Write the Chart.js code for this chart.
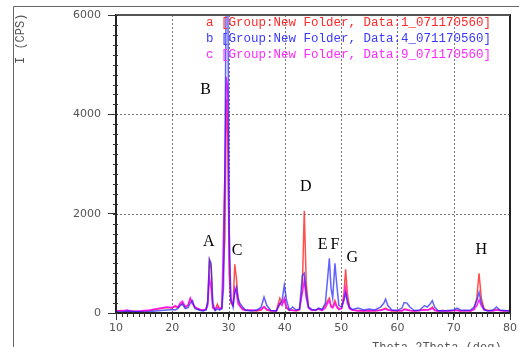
<!DOCTYPE html>
<html>
<head>
<meta charset="utf-8">
<script src="https://cdn.jsdelivr.net/npm/chart.js@4.4.0/dist/chart.umd.min.js"></script>
<style>
  html, body { margin: 0; padding: 0; background: #fff; }
  #wrap { position: relative; width: 519px; height: 347px; }
</style>
</head>
<body>
<div id="wrap"><canvas id="xrd" width="519" height="347"></canvas></div>
<script>
// 2-theta positions (deg) shared by the three scans
const twoTheta = [
  10, 11, 12, 13, 14, 15, 16, 17, 18, 19,
  20, 20.5, 21, 21.4, 21.8, 22.3, 22.8, 23.2, 23.6, 24.0,
  24.5, 25, 25.5, 26, 26.3, 26.6, 26.9, 27.2, 27.6, 28.0,
  28.4, 28.8, 29.1, 29.35, 29.6, 29.85, 30.1, 30.4, 30.8, 31.1,
  31.4, 31.7, 32.0, 32.5, 33, 34, 35, 35.8, 36.3, 36.8,
  37.5, 38.5, 39.1, 39.5, 39.9, 40.3, 40.8, 41.4, 42, 42.6,
  43.1, 43.45, 43.8, 44.2, 44.8, 45.5, 46, 46.6, 47.2, 47.6,
  47.9, 48.2, 48.5, 48.9, 49.2, 49.6, 50.1, 50.5, 50.8, 51.1,
  51.5, 52, 53, 54, 55, 56, 57, 57.6, 57.9, 58.3,
  59, 60, 60.8, 61.2, 61.7, 62.2, 63, 64, 64.8, 65.3,
  65.8, 66.2, 66.6, 67.2, 68, 69, 70, 70.6, 71.2, 72,
  73, 73.6, 74.1, 74.5, 74.9, 75.4, 76, 77, 77.6, 78.2,
  79, 80
];

// a : Data 1_071170560 (red)
const cpsA = [
  40, 50, 30, 40, 20, 40, 50, 70, 90, 110,
  100, 130, 110, 160, 200, 120, 150, 280, 200, 110,
  80, 60, 50, 80, 200, 1050, 900, 120, 60, 180,
  90, 110, 900, 1500, 4300, 3600, 800, 200, 150, 980,
  700, 250, 150, 80, 60, 50, 40, 60, 120, 60,
  40, 50, 300, 200, 250, 100, 50, 60, 40, 60,
  500, 2060, 600, 120, 60, 50, 90, 60, 150, 250,
  300, 150, 120, 250, 150, 80, 100, 400, 880, 400,
  100, 60, 50, 40, 50, 40, 60, 80, 100, 70,
  40, 40, 50, 80, 70, 50, 40, 50, 70, 60,
  80, 120, 60, 40, 50, 40, 50, 60, 40, 50,
  40, 80, 300, 800, 300, 80, 50, 50, 70, 50,
  40, 50
];

// b : Data 4_071170560 (blue)
const cpsB = [
  30, 20, 40, 30, 30, 20, 30, 40, 50, 60,
  70, 60, 90, 150, 180, 90, 110, 200, 250, 90,
  70, 50, 40, 60, 250, 1080, 1000, 200, 50, 80,
  60, 80, 500, 3000, 6900, 6900, 1800, 300, 120, 400,
  520, 300, 200, 120, 60, 40, 60, 120, 320, 150,
  50, 40, 180, 250, 560, 250, 60, 120, 60, 80,
  750, 800, 400, 120, 70, 60, 100, 70, 200, 700,
  1100, 500, 300, 1000, 600, 150, 120, 250, 400, 250,
  120, 70, 100, 60, 80, 60, 120, 200, 280, 150,
  60, 50, 100, 210, 200, 120, 50, 60, 150, 120,
  180, 250, 120, 50, 40, 50, 60, 100, 60, 50,
  60, 120, 250, 420, 200, 70, 40, 60, 120, 60,
  50, 40
];

// c : Data 9_071170560 (magenta)
const cpsC = [
  50, 40, 60, 30, 40, 50, 60, 80, 100, 120,
  110, 150, 120, 200, 240, 130, 160, 300, 180, 130,
  90, 70, 60, 70, 150, 700, 500, 100, 70, 120,
  80, 100, 1600, 2800, 4750, 4500, 1200, 250, 160, 500,
  400, 180, 140, 70, 50, 60, 50, 80, 130, 70,
  50, 40, 200, 150, 300, 120, 60, 50, 50, 70,
  400, 650, 300, 100, 50, 60, 80, 50, 100, 200,
  250, 120, 100, 200, 120, 70, 90, 300, 500, 200,
  80, 60, 40, 50, 40, 50, 50, 70, 80, 60,
  50, 50, 40, 70, 60, 50, 40, 50, 60, 60,
  70, 100, 50, 40, 50, 40, 50, 50, 40, 50,
  40, 70, 150, 260, 150, 60, 50, 40, 60, 50,
  40, 50
];

const seriesNames = [
  'a [Group:New Folder, Data:1_071170560]',
  'b [Group:New Folder, Data:4_071170560]',
  'c [Group:New Folder, Data:9_071170560]'
];

// peak letters and where they sit (deg, cps)
const peakLetters = ['A', 'B', 'C', 'D', 'E', 'F', 'G', 'H'];
const peakTheta = [26.5, 25.9, 31.5, 43.7, 46.7, 48.9, 52.0, 74.9];
const peakCps = [1435, 4500, 1254, 2542, 1369, 1369, 1121, 1282];

const toPoints = (ys) => twoTheta.map((x, i) => ({ x: x, y: ys[i] }));

const frame = {
  id: 'frame',
  beforeDatasetsDraw(chart) {
    const { ctx, chartArea: a, scales: { x, y } } = chart;
    ctx.save();
    ctx.strokeStyle = '#777';
    ctx.lineWidth = 1;
    ctx.setLineDash([2, 2]);
    [20, 30, 40, 50, 60, 70].forEach(v => {
      const px = Math.round(x.getPixelForValue(v)) + 0.5;
      ctx.beginPath(); ctx.moveTo(px, a.top); ctx.lineTo(px, a.bottom); ctx.stroke();
    });
    [2000, 4000].forEach(v => {
      const py = Math.round(y.getPixelForValue(v)) + 0.5;
      ctx.beginPath(); ctx.moveTo(a.left, py); ctx.lineTo(a.right, py); ctx.stroke();
    });
    ctx.restore();
  },
  afterDatasetsDraw(chart) {
    const { ctx, chartArea: a, scales: { x, y } } = chart;
    ctx.save();
    // plot box
    ctx.strokeStyle = '#222';
    ctx.lineWidth = 2;
    ctx.beginPath();
    ctx.moveTo(a.left, a.top); ctx.lineTo(a.right, a.top);
    ctx.lineTo(a.right, a.bottom); ctx.lineTo(a.left, a.bottom);
    ctx.closePath(); ctx.stroke();
    ctx.strokeStyle = '#555';
    ctx.beginPath(); ctx.moveTo(a.left, a.top); ctx.lineTo(a.right, a.top); ctx.stroke();

    // minor ticks
    ctx.strokeStyle = '#333';
    ctx.lineWidth = 1;
    for (let v = 0; v <= 6000; v += 200) {
      const py = Math.round(y.getPixelForValue(v)) + 0.5;
      ctx.beginPath(); ctx.moveTo(a.left - 3, py); ctx.lineTo(a.left + 2, py); ctx.stroke();
    }
    for (let v = 10; v <= 80; v += 1) {
      const px = Math.round(x.getPixelForValue(v)) + 0.5;
      ctx.beginPath(); ctx.moveTo(px, a.bottom - 1); ctx.lineTo(px, a.bottom + 4); ctx.stroke();
    }

    // outer window frame
    ctx.strokeStyle = '#666';
    ctx.beginPath(); ctx.moveTo(13.5, 347); ctx.lineTo(13.5, 6.5); ctx.lineTo(519, 6.5); ctx.stroke();

    // scan names
    const cols = ['#ff2a2a', '#3a3aff', '#ff2aff'];
    ctx.font = '12.5px "Liberation Mono", monospace';
    ctx.textBaseline = 'middle';
    ctx.textAlign = 'left';
    seriesNames.forEach((s, i) => {
      ctx.fillStyle = cols[i];
      ctx.fillText(s, 206, 23 + i * 16);
    });

    // peak letters
    ctx.fillStyle = '#000';
    ctx.font = '16px "Liberation Serif", serif';
    ctx.textAlign = 'center';
    peakLetters.forEach((l, i) => {
      ctx.fillText(l, x.getPixelForValue(peakTheta[i]), y.getPixelForValue(peakCps[i]));
    });

    // axis titles
    ctx.fillStyle = '#555';
    ctx.font = '12px "Liberation Mono", monospace';
    ctx.textAlign = 'left';
    ctx.textBaseline = 'alphabetic';
    ctx.fillText('Theta-2Theta (deg)', 372, 351);
    ctx.translate(24, 64);
    ctx.rotate(-Math.PI / 2);
    ctx.fillText('I (CPS)', 0, 0);
    ctx.restore();
  }
};

const ctx = document.getElementById('xrd');
new Chart(ctx, {
  type: 'line',
  data: {
    datasets: [
      { label: 'b', data: toPoints(cpsB), borderColor: 'rgba(30,30,255,0.7)', borderWidth: 1.5 },
      { label: 'c', data: toPoints(cpsC), borderColor: 'rgba(255,0,255,0.85)', borderWidth: 1.5 },
      { label: 'a', data: toPoints(cpsA), borderColor: 'rgba(255,20,20,0.75)', borderWidth: 1.5 }
    ]
  },
  options: {
    responsive: false,
    animation: false,
    elements: { point: { radius: 0 }, line: { tension: 0 } },
    layout: { padding: { left: 0, top: 15, right: 9, bottom: 0 } },
    plugins: { legend: { display: false }, tooltip: { enabled: false } },
    scales: {
      x: {
        type: 'linear', min: 10, max: 80,
        afterFit: (s) => { s.height = 34; },
        ticks: { stepSize: 10, padding: 2, color: '#555', font: { family: '"DejaVu Sans"', size: 11 } },
        grid: { drawOnChartArea: false, tickLength: 7, tickColor: '#333' },
        border: { display: false }
      },
      y: {
        min: 0, max: 6000,
        afterFit: (s) => { s.width = 116; },
        ticks: { stepSize: 2000, padding: 7, color: '#555', font: { family: '"DejaVu Sans"', size: 11 },
                 callback: (v) => String(v) },
        grid: { drawOnChartArea: false, tickLength: 8, tickColor: '#333' },
        border: { display: false }
      }
    }
  },
  plugins: [frame]
});
</script>
</body>
</html>
